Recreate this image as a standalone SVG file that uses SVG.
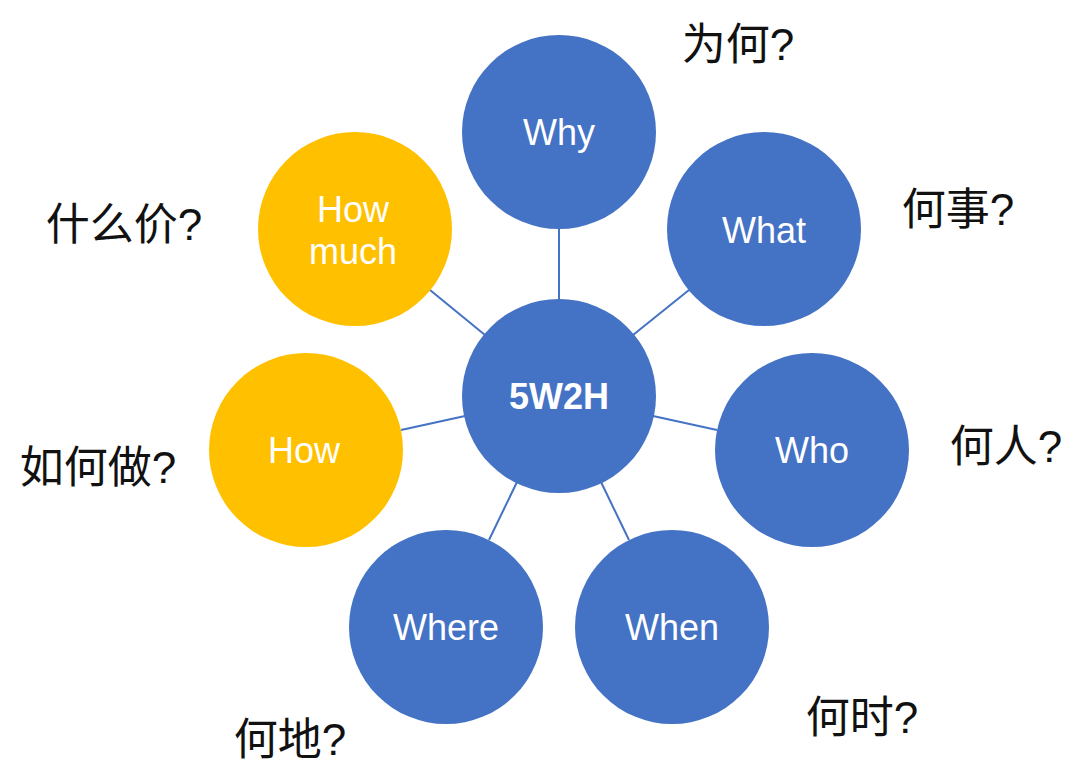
<svg xmlns="http://www.w3.org/2000/svg" width="1083" height="779" viewBox="0 0 1083 779">
<style>
.b{fill:#4472C4}.y{fill:#FFC000}
.t{fill:#fff;font-family:"Liberation Sans",Arial,sans-serif;font-size:36px;text-anchor:middle}
.c{fill:#111;font-family:"Liberation Sans","Noto Sans CJK SC",sans-serif;font-size:44px;text-anchor:middle}
line{stroke:#4472C4;stroke-width:2}
</style>
<rect width="1083" height="779" fill="#fff"/>
<g id="connectors">
<line x1="559" y1="300" x2="559" y2="229"/>
<line x1="633" y1="335" x2="689" y2="290"/>
<line x1="653" y1="416" x2="717" y2="430"/>
<line x1="601" y1="482" x2="629" y2="540"/>
<line x1="517" y1="482" x2="489" y2="540"/>
<line x1="465" y1="416" x2="401" y2="430"/>
<line x1="485" y1="335" x2="430" y2="290"/>
</g>
<g id="center"><circle class="b" cx="559" cy="396" r="97"/><text class="t" x="559" y="409" font-weight="bold">5W2H</text></g>
<g id="why"><circle class="b" cx="559" cy="132" r="97"/><text class="t" x="559" y="145">Why</text></g>
<g id="what"><circle class="b" cx="764" cy="229" r="97"/><text class="t" x="764" y="243">What</text></g>
<g id="who"><circle class="b" cx="812" cy="450" r="97"/><text class="t" x="812" y="463">Who</text></g>
<g id="when"><circle class="b" cx="672" cy="627" r="97"/><text class="t" x="672" y="640">When</text></g>
<g id="where"><circle class="b" cx="446" cy="627" r="97"/><text class="t" x="446" y="640">Where</text></g>
<g id="how"><circle class="y" cx="306" cy="450" r="97"/><text class="t" x="304" y="463">How</text></g>
<g id="howmuch"><circle class="y" cx="355" cy="229" r="97"/><text class="t" x="353" y="222">How</text><text class="t" x="353" y="264">much</text></g>
<g id="labels">
<text class="c" x="738" y="60">为何?</text>
<text class="c" x="958" y="225">何事?</text>
<text class="c" x="1006" y="462">何人?</text>
<text class="c" x="862" y="733">何时?</text>
<text class="c" x="290" y="755">何地?</text>
<text class="c" x="98" y="483">如何做?</text>
<text class="c" x="124" y="240">什么价?</text>
</g>
</svg>
